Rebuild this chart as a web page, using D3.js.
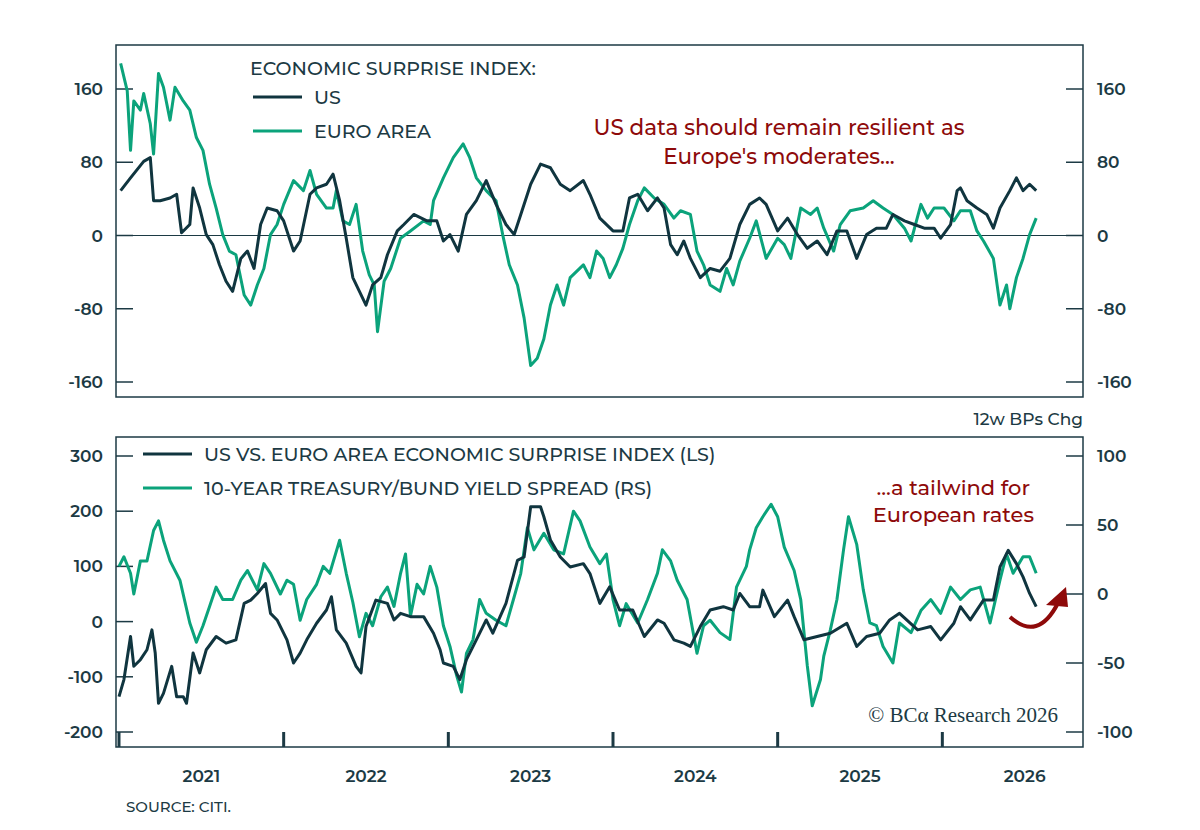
<!DOCTYPE html>
<html>
<head>
<meta charset="utf-8">
<script src="https://cdn.jsdelivr.net/npm/d3@7"></script>
<style>
  body { margin: 0; background: #fff; }
  svg text { font-family: "Montserrat", "Lato", "Noto Sans", sans-serif; }
</style>
</head>
<body>
<svg id="chart" width="1200" height="830"></svg>
<script>
// --- data: [decimal year, value] ---
const usSurprise = [
  [2020.51,49],[2020.57,63],[2020.65,81],[2020.69,85],[2020.71,38],[2020.75,38],[2020.81,41],[2020.85,45],
  [2020.88,3],[2020.93,12],[2020.95,52],[2020.99,30],[2021.03,1],[2021.07,-10],[2021.11,-32],[2021.15,-50],
  [2021.19,-61],[2021.24,-25],[2021.28,-17],[2021.32,-36],[2021.36,12],[2021.40,30],[2021.46,27],[2021.50,16],
  [2021.56,-17],[2021.60,-6],[2021.66,45],[2021.70,52],[2021.76,56],[2021.80,67],[2021.84,38],[2021.88,-3],
  [2021.92,-46],[2021.96,-61],[2022.00,-76],[2022.04,-54],[2022.09,-46],[2022.13,-21],[2022.19,5],[2022.23,12],
  [2022.29,23],[2022.37,16],[2022.43,16],[2022.47,-6],[2022.51,1],[2022.56,-17],[2022.61,23],[2022.67,38],
  [2022.73,60],[2022.79,34],[2022.85,12],[2022.90,1],[2022.94,23],[2023.00,56],[2023.06,78],[2023.12,74],
  [2023.18,56],[2023.24,49],[2023.32,60],[2023.36,45],[2023.42,19],[2023.50,5],[2023.56,5],[2023.60,41],
  [2023.65,45],[2023.71,27],[2023.77,41],[2023.81,30],[2023.85,-10],[2023.89,-21],[2023.93,-6],[2023.97,-25],
  [2024.03,-46],[2024.09,-36],[2024.15,-39],[2024.21,-25],[2024.27,12],[2024.33,34],[2024.39,41],[2024.43,34],
  [2024.50,5],[2024.56,19],[2024.62,1],[2024.68,-14],[2024.74,-6],[2024.80,-21],[2024.86,5],[2024.92,5],
  [2024.98,-25],[2025.04,1],[2025.10,8],[2025.16,8],[2025.20,23],[2025.27,16],[2025.33,12],[2025.39,8],
  [2025.45,8],[2025.49,-3],[2025.55,12],[2025.59,49],[2025.61,52],[2025.65,38],[2025.71,30],[2025.77,23],
  [2025.81,8],[2025.85,30],[2025.91,49],[2025.95,63],[2025.99,49],[2026.03,56],[2026.07,49]
];
const euroSurprise = [
  [2020.51,188],[2020.55,158],[2020.57,93],[2020.59,147],[2020.63,137],[2020.65,155],[2020.69,122],[2020.71,89],
  [2020.74,177],[2020.77,162],[2020.81,126],[2020.84,162],[2020.89,147],[2020.93,137],[2020.97,107],[2021.01,93],
  [2021.05,56],[2021.09,30],[2021.13,1],[2021.17,-17],[2021.21,-21],[2021.26,-65],[2021.30,-76],[2021.34,-54],
  [2021.38,-36],[2021.42,1],[2021.46,12],[2021.50,34],[2021.56,60],[2021.62,49],[2021.66,71],[2021.70,45],
  [2021.76,30],[2021.80,30],[2021.82,49],[2021.86,16],[2021.90,12],[2021.94,34],[2021.98,-17],[2022.02,-43],
  [2022.05,-54],[2022.07,-105],[2022.11,-50],[2022.15,-36],[2022.21,-3],[2022.27,5],[2022.35,16],[2022.39,12],
  [2022.41,38],[2022.47,63],[2022.53,85],[2022.59,100],[2022.63,85],[2022.67,63],[2022.73,49],[2022.79,38],
  [2022.83,1],[2022.87,-32],[2022.92,-54],[2022.96,-90],[2023.00,-142],[2023.04,-134],[2023.08,-113],[2023.12,-76],
  [2023.16,-54],[2023.20,-76],[2023.24,-46],[2023.32,-32],[2023.36,-46],[2023.40,-17],[2023.44,-25],[2023.48,-46],
  [2023.52,-32],[2023.56,-14],[2023.60,12],[2023.65,38],[2023.69,52],[2023.75,41],[2023.81,34],[2023.87,19],
  [2023.91,27],[2023.97,23],[2024.01,-17],[2024.05,-32],[2024.09,-54],[2024.15,-61],[2024.19,-36],[2024.23,-54],
  [2024.27,-28],[2024.33,-3],[2024.37,16],[2024.43,-25],[2024.50,-3],[2024.54,-10],[2024.58,-25],[2024.64,30],
  [2024.70,23],[2024.74,30],[2024.78,8],[2024.84,-17],[2024.88,12],[2024.94,27],[2025.02,30],[2025.08,38],
  [2025.14,30],[2025.20,23],[2025.27,8],[2025.31,-6],[2025.37,34],[2025.41,19],[2025.45,30],[2025.51,30],
  [2025.57,16],[2025.61,27],[2025.67,27],[2025.71,5],[2025.75,-6],[2025.81,-25],[2025.85,-76],[2025.89,-54],
  [2025.91,-80],[2025.95,-46],[2025.99,-25],[2026.03,1],[2026.07,19]
];
const usVsEuro = [
  [2020.50,-136],[2020.53,-105],[2020.57,-27],[2020.59,-81],[2020.63,-69],[2020.67,-51],[2020.70,-15],[2020.72,-57],
  [2020.74,-148],[2020.77,-130],[2020.82,-81],[2020.85,-136],[2020.89,-136],[2020.91,-148],[2020.95,-57],[2020.99,-93],
  [2021.03,-51],[2021.09,-27],[2021.15,-39],[2021.21,-33],[2021.26,33],[2021.30,39],[2021.34,51],[2021.39,69],
  [2021.42,15],[2021.46,3],[2021.52,-33],[2021.56,-75],[2021.60,-57],[2021.64,-33],[2021.70,-3],[2021.76,21],
  [2021.79,45],[2021.82,-15],[2021.88,-39],[2021.94,-81],[2021.97,-93],[2022.00,-9],[2022.06,39],[2022.13,33],
  [2022.17,3],[2022.21,15],[2022.27,9],[2022.35,9],[2022.41,-21],[2022.45,-51],[2022.47,-75],[2022.53,-81],
  [2022.57,-105],[2022.61,-69],[2022.67,-33],[2022.73,3],[2022.77,-21],[2022.85,33],[2022.92,111],[2022.96,117],
  [2023.00,208],[2023.06,208],[2023.08,190],[2023.12,148],[2023.18,117],[2023.24,99],[2023.32,105],[2023.36,87],
  [2023.42,33],[2023.48,63],[2023.54,21],[2023.62,21],[2023.69,-27],[2023.77,3],[2023.81,-3],[2023.87,-33],
  [2023.93,-39],[2023.97,-45],[2024.03,-9],[2024.09,21],[2024.17,27],[2024.23,21],[2024.27,51],[2024.33,27],
  [2024.39,27],[2024.41,57],[2024.48,9],[2024.56,39],[2024.60,9],[2024.66,-33],[2024.74,-27],[2024.82,-21],
  [2024.92,-3],[2024.98,-45],[2025.04,-27],[2025.12,-21],[2025.18,3],[2025.24,15],[2025.35,-15],[2025.43,-9],
  [2025.49,-33],[2025.57,-3],[2025.61,27],[2025.67,3],[2025.75,39],[2025.81,39],[2025.85,99],[2025.90,129],
  [2025.95,105],[2025.99,81],[2026.03,51],[2026.07,27]
];
const yieldSpread = [
  [2020.50,20],[2020.53,27],[2020.57,15],[2020.59,0],[2020.63,24],[2020.67,24],[2020.71,46],[2020.74,53],
  [2020.77,39],[2020.81,24],[2020.87,10],[2020.93,-21],[2020.97,-35],[2021.01,-23],[2021.05,-9],[2021.09,5],
  [2021.13,-4],[2021.19,-4],[2021.24,10],[2021.28,17],[2021.34,3],[2021.38,22],[2021.42,15],[2021.48,0],
  [2021.52,10],[2021.56,7],[2021.60,-19],[2021.64,-4],[2021.70,7],[2021.74,20],[2021.78,15],[2021.84,39],
  [2021.88,15],[2021.92,-6],[2021.96,-31],[2022.00,-14],[2022.04,-23],[2022.09,-2],[2022.13,5],[2022.17,-9],
  [2022.21,15],[2022.24,29],[2022.27,-16],[2022.31,7],[2022.35,0],[2022.39,20],[2022.43,5],[2022.47,-23],
  [2022.51,-38],[2022.55,-59],[2022.58,-71],[2022.61,-43],[2022.65,-33],[2022.69,-4],[2022.73,-14],[2022.79,-19],
  [2022.85,-23],[2022.90,-2],[2022.94,15],[2022.98,48],[2023.02,32],[2023.08,44],[2023.14,32],[2023.20,29],
  [2023.26,60],[2023.30,53],[2023.36,34],[2023.42,22],[2023.46,29],[2023.50,-4],[2023.54,-23],[2023.58,-7],
  [2023.65,-21],[2023.71,-4],[2023.77,15],[2023.80,32],[2023.85,24],[2023.89,10],[2023.95,-4],[2024.01,-43],
  [2024.05,-23],[2024.09,-19],[2024.15,-28],[2024.21,-33],[2024.25,5],[2024.31,20],[2024.33,32],[2024.37,48],
  [2024.41,56],[2024.46,65],[2024.50,56],[2024.54,34],[2024.60,17],[2024.64,-4],[2024.68,-52],[2024.71,-81],
  [2024.76,-62],[2024.78,-45],[2024.82,-26],[2024.86,-4],[2024.90,32],[2024.93,56],[2024.98,36],[2025.02,3],
  [2025.06,-21],[2025.10,-23],[2025.14,-38],[2025.20,-50],[2025.24,-21],[2025.31,-28],[2025.37,-12],[2025.43,-4],
  [2025.49,-14],[2025.55,5],[2025.61,-4],[2025.67,3],[2025.73,5],[2025.79,-21],[2025.85,10],[2025.89,29],
  [2025.93,15],[2025.99,27],[2026.03,27],[2026.07,15]
];
const years = [2021, 2022, 2023, 2024, 2025, 2026];
const topTicks = [-160, -80, 0, 80, 160];
const bottomLeftTicks = [-200, -100, 0, 100, 200, 300];
const bottomRightTicks = [-100, -50, 0, 50, 100];

const DARK = '#10353f', GREEN = '#0ba37b', TEXT = '#1c3a44', RED = '#8e0a0a';
const svg = d3.select('#chart');
const L = 116, R = 1083;
const top1 = 45, bot1 = 397, top2 = 437, bot2 = 747;

const x = d3.scaleLinear().domain([2020.5, 2026.5]).range([119, 1107]);

// top panel scales
const yTop = d3.scaleLinear().domain([-160, 160]).range([382, 89]);
// bottom panel scales
const yBL = d3.scaleLinear().domain([-200, 300]).range([732, 456]);
const yBR = d3.scaleLinear().domain([-100, 100]).range([732, 456]);

function frame(y0, y1) {
  svg.append('rect').attr('x', L).attr('y', y0).attr('width', R - L).attr('height', y1 - y0)
    .attr('fill', 'none').attr('stroke', TEXT).attr('stroke-width', 1.5);
}
frame(top1, bot1);
frame(top2, bot2);

function sideTicks(ticks, scale, side) {
  const g = svg.append('g');
  ticks.forEach(t => {
    const yy = scale(t);
    const x0 = side === 'left' ? L : R;
    const dx = side === 'left' ? 17 : -17;
    g.append('line').attr('x1', x0).attr('x2', x0 + dx).attr('y1', yy).attr('y2', yy)
      .attr('stroke', TEXT).attr('stroke-width', 1.5);
    g.append('text').attr('x', side === 'left' ? 103 : 1097).attr('y', yy + 6)
      .attr('text-anchor', side === 'left' ? 'end' : 'start')
      .attr('fill', TEXT).attr('font-size', 17).attr('font-weight', 600)
      .text(t);
  });
}
sideTicks(topTicks, yTop, 'left');
sideTicks(topTicks, yTop, 'right');
sideTicks(bottomLeftTicks, yBL, 'left');
sideTicks(bottomRightTicks, yBR, 'right');

// zero line in top panel
svg.append('line').attr('x1', L).attr('x2', R).attr('y1', yTop(0)).attr('y2', yTop(0))
  .attr('stroke', TEXT).attr('stroke-width', 1.2);

// x ticks (mid-year) and year labels
years.forEach(yr => {
  const tx = x(yr - 0.5);
  if (tx <= R) {
    svg.append('line').attr('x1', tx).attr('x2', tx).attr('y1', bot2).attr('y2', bot2 - 15)
      .attr('stroke', TEXT).attr('stroke-width', 3);
  }
  svg.append('text').attr('x', x(yr)).attr('y', 782).attr('text-anchor', 'middle')
    .attr('fill', TEXT).attr('font-size', 17).attr('font-weight', 600).text(yr);
});

function drawLine(data, yScale, color) {
  svg.append('path').datum(data)
    .attr('fill', 'none').attr('stroke', color).attr('stroke-width', 3)
    .attr('stroke-linejoin', 'round')
    .attr('d', d3.line().x(d => x(d[0])).y(d => yScale(d[1])));
}
drawLine(euroSurprise, yTop, GREEN);
drawLine(usSurprise, yTop, DARK);
drawLine(yieldSpread, yBR, GREEN);
drawLine(usVsEuro, yBL, DARK);

// legends
function legendItem(lx, ly, color, label) {
  svg.append('line').attr('x1', lx).attr('x2', lx + 49).attr('y1', ly).attr('y2', ly)
    .attr('stroke', color).attr('stroke-width', 3);
  svg.append('text').attr('x', lx + 61).attr('y', ly + 7).attr('fill', TEXT)
    .attr('font-size', 19).attr('font-weight', 500).text(label);
}
svg.append('text').attr('x', 250).attr('y', 75).attr('fill', TEXT)
  .attr('font-size', 19).attr('font-weight', 500).text('ECONOMIC SURPRISE INDEX:');
legendItem(253, 97, DARK, 'US');
legendItem(253, 131, GREEN, 'EURO AREA');
legendItem(143, 454, DARK, 'US VS. EURO AREA ECONOMIC SURPRISE INDEX (LS)');
legendItem(143, 488, GREEN, '10-YEAR TREASURY/BUND YIELD SPREAD (RS)');

// annotations
const ann = [['US data should remain resilient as', 779, 135], ["Europe's moderates...", 779, 164]];
ann.forEach(a => svg.append('text').attr('x', a[1]).attr('y', a[2]).attr('text-anchor', 'middle')
  .attr('fill', RED).attr('font-size', 21.5).attr('font-weight', 500).text(a[0]));
svg.append('text').attr('x', 1030).attr('y', 495).attr('text-anchor', 'end')
  .attr('fill', RED).attr('font-size', 21).attr('font-weight', 500).text('...a tailwind for');
svg.append('text').attr('x', 1034).attr('y', 522).attr('text-anchor', 'end')
  .attr('fill', RED).attr('font-size', 21).attr('font-weight', 500).text('European rates');

// curved arrow
svg.append('path').attr('d', 'M1010,617 Q1038,642 1058,603')
  .attr('fill', 'none').attr('stroke', RED).attr('stroke-width', 4);
svg.append('path').attr('d', 'M1046,605 L1066,587 L1068,607 Z').attr('fill', RED);

svg.append('text').attr('x', 1058).attr('y', 722).attr('text-anchor', 'end')
  .attr('fill', TEXT).attr('font-size', 21)
  .style('font-family', '"Liberation Serif", "DejaVu Serif", serif')
  .text('© BCα Research 2026');

svg.append('text').attr('x', 1083).attr('y', 425).attr('text-anchor', 'end')
  .attr('fill', TEXT).attr('font-size', 17).attr('font-weight', 500).text('12w BPs Chg');
svg.append('text').attr('x', 126).attr('y', 812).attr('fill', TEXT)
  .attr('font-size', 15).attr('font-weight', 500).text('SOURCE: CITI.');
</script>
</body>
</html>
